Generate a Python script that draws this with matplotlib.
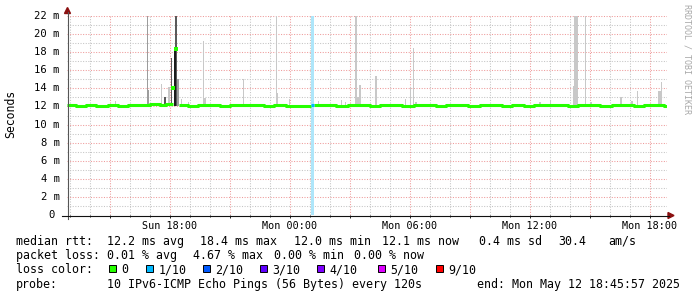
"""SmokePing style latency graph (median rtt + smoke), rebuilt with matplotlib."""

import numpy as np
import matplotlib.pyplot as plt
from matplotlib.patches import Rectangle, Polygon
from matplotlib.lines import Line2D
from matplotlib.ticker import FixedLocator

W, H = 697, 297

# time axis in hours since Sun 00:00
x_start = 12.85
x_end = 42.85
tick_hours = [15, 18, 21, 24, 27, 30, 33, 36, 39, 42]
tick_labels = ["", "Sun 18:00", "", "Mon 00:00", "", "Mon 06:00", "", "Mon 12:00", "", "Mon 18:00"]

y_ticks = [0, 2, 4, 6, 8, 10, 12, 14, 16, 18, 20, 22]
y_labels = ["0", "2 m", "4 m", "6 m", "8 m", "10 m", "12 m", "14 m", "16 m", "18 m", "20 m", "22 m"]

# median rtt (ms), step values
median_hours = [12.85, 13.3, 13.8, 14.3, 14.9, 15.4, 15.9, 16.5, 17.0, 17.5, 17.8, 18.15,
                18.45, 18.9, 19.4, 19.9, 20.5, 21.0, 21.6, 22.1, 22.7, 23.2, 23.8, 24.3,
                24.8, 25.05, 25.2, 25.8, 26.3, 26.9, 27.4, 28.0, 28.5, 29.1, 29.6, 30.2,
                30.7, 31.3, 31.8, 32.4, 32.9, 33.5, 34.0, 34.6, 35.1, 35.7, 36.2, 36.8,
                37.3, 37.9, 38.4, 39.0, 39.5, 40.1, 40.6, 41.2, 41.7, 42.2, 42.7, 42.85]
median_ms = [12.15, 12.1, 12.2, 12.1, 12.15, 12.1, 12.2, 12.15, 12.25, 12.2, 12.3, np.nan,
             12.15, 12.1, 12.2, 12.15, 12.1, 12.2, 12.15, 12.2, 12.1, 12.15, 12.05, 12.0,
             12.1, np.nan, 12.15, 12.2, 12.1, 12.15, 12.2, 12.1, 12.15, 12.2, 12.1, 12.15,
             12.2, 12.1, 12.15, 12.2, 12.1, 12.15, 12.2, 12.1, 12.15, 12.1, 12.2, 12.15,
             12.2, 12.1, 12.2, 12.15, 12.1, 12.2, 12.15, 12.1, 12.2, 12.15, 12.1, 12.1]

# isolated median samples during the spike
peak_hours = [18.165, 18.3]
peak_ms = [14.0, 18.4]

# sample with 1/10 packet loss
loss_hours = [25.05, 25.2]
loss_ms = [12.15, 12.15]

# smoke (ping spread): centre, duration, top value, density 0..3
smoke_hours = [15.25, 16.90, 16.85, 17.585, 17.93, 17.75, 18.085, 18.31, 18.42, 18.25,
               18.55, 18.90, 19.72, 19.665, 21.665, 23.35, 23.32, 23.965, 25.415, 26.55,
               26.75, 27.35, 27.31, 27.50, 28.31, 29.75, 30.00, 30.17, 30.29, 36.50,
               37.00, 38.165, 38.30, 38.775, 39.05, 40.54, 41.085, 41.36, 42.50, 42.57]
smoke_span = [0.05, 0.12, 0.05, 0.05, 0.10, 0.15, 0.05, 0.12, 0.10, 0.10,
              0.05, 0.05, 0.15, 0.06, 0.06, 0.13, 0.08, 0.05, 0.05, 0.05,
              0.05, 0.20, 0.10, 0.10, 0.10, 0.05, 0.05, 0.06, 0.08, 0.08,
              0.05, 0.05, 0.17, 0.06, 0.10, 0.09, 0.10, 0.05, 0.17, 0.06]
smoke_top = [12.6, 13.8, 22.0, 14.5, 14.1, 13.1, 17.4, 22.0, 15.0, 18.5,
             12.8, 12.5, 12.9, 19.2, 15.0, 13.5, 22.0, 12.8, 12.6, 12.7,
             12.5, 13.0, 22.0, 14.4, 15.4, 12.8, 14.1, 18.5, 12.5, 12.5,
             12.6, 14.3, 22.0, 22.0, 12.5, 13.0, 12.6, 13.7, 13.7, 14.7]
smoke_level = [0, 1, 1, 0, 0, 2, 2, 2, 1, 3,
               0, 0, 0, 0, 0, 0, 0, 0, 0, 0,
               0, 0, 0, 0, 0, 0, 0, 0, 0, 0,
               0, 0, 0, 0, 0, 0, 0, 0, 0, 0]
smoke_base = 12.05

loss_names = ["0", "1/10", "2/10", "3/10", "4/10", "5/10", "9/10"]
loss_colors = ["#26ff00", "#00b8ff", "#0059ff", "#5e00ff", "#7e00ff", "#dd00ff", "#ff0000"]

shades = ["#c8c8c8", "#9c9c9c", "#5a5a5a", "#1c1c1c"]
mono = "DejaVu Sans Mono"


def fx(x):
    return x / W


def fy(y):
    return 1 - y / H


fig = plt.figure(figsize=(W / 100, H / 100), dpi=100)
fig.patch.set_facecolor("white")
ax = fig.add_axes([fx(67), fy(215), 600 / W, 199 / H])
ax.set_xlim(x_start, x_end)
ax.set_ylim(0, 22)
for s in ax.spines.values():
    s.set_visible(False)

# grid
ax.xaxis.set_major_locator(FixedLocator(tick_hours))
ax.xaxis.set_minor_locator(FixedLocator(range(13, 43)))
ax.yaxis.set_major_locator(FixedLocator(y_ticks))
ax.yaxis.set_minor_locator(FixedLocator(range(1, 23, 2)))
ax.grid(which="minor", color="#c4c4c4", linestyle=(0, (1, 1.5)), linewidth=0.75)
ax.grid(which="major", color="#ee9a9a", linestyle=(0, (1, 1.5)), linewidth=0.75)
ax.set_axisbelow(True)
ax.set_xticklabels(tick_labels, fontfamily=mono, fontsize=7.3)
ax.set_yticklabels([])
ax.tick_params(axis="x", which="major", length=2.5, width=0.7, pad=1.5, color="#202020")
ax.tick_params(axis="x", which="minor", length=1.5, width=0.7, color="#202020")
ax.tick_params(axis="y", which="both", length=0)

for v, lab in zip(y_ticks, y_labels):
    off = -12 if lab == "0" else -7
    ax.text(off / 600, v, lab, transform=ax.get_yaxis_transform(), ha="right",
            va="center", fontfamily=mono, fontsize=7.6)

# loss band
ax.axvspan(loss_hours[0], loss_hours[1], color="#aee6fa", zorder=1.5, lw=0)

# smoke
order = np.argsort(smoke_level, kind="stable")
for i in order:
    ax.bar(smoke_hours[i], smoke_top[i] - smoke_base, width=smoke_span[i],
           bottom=smoke_base, color=shades[smoke_level[i]], lw=0, zorder=2)

# median
ax.step(median_hours, median_ms, where="post", color=loss_colors[0], lw=2.2,
        solid_capstyle="butt", zorder=3)
ax.plot(loss_hours, loss_ms, color=loss_colors[1], lw=2.2, solid_capstyle="butt", zorder=3)
ax.plot(peak_hours, peak_ms, "s", color=loss_colors[0], ms=2.2, mew=0, zorder=4)

# axes lines with arrows
fig.add_artist(Line2D([fx(67.5), fx(67.5)], [fy(219), fy(12)], color="#555555", lw=0.8))
fig.add_artist(Line2D([fx(62), fx(669)], [fy(215.5), fy(215.5)], color="#111111", lw=0.8))
fig.add_artist(Polygon([[fx(67.5), fy(7.5)], [fx(64.5), fy(13.5)], [fx(70.5), fy(13.5)]],
                       closed=True, color="#8b1010", transform=fig.transFigure))
fig.add_artist(Polygon([[fx(674), fy(215.5)], [fx(668), fy(212.5)], [fx(668), fy(218.5)]],
                       closed=True, color="#8b1010", transform=fig.transFigure))

fig.text(fx(11), fy(113.5), "Seconds", rotation=90, ha="center", va="center",
         fontfamily=mono, fontsize=8.3)
fig.text(fx(686.5), fy(4), "RRDTOOL / TOBI OETIKER", rotation=270, ha="center", va="top",
         fontfamily=mono, fontsize=6.0, color="#a8a8a8")

# legend rows
row1 = [(16, "median rtt:"), (107.7, "12.2 ms avg"), (201, "18.4 ms max"),
        (294.5, "12.0 ms min"), (382.7, "12.1 ms now"), (479.3, "0.4 ms sd"),
        (558.3, "30.4"), (608.3, "am/s")]
row2 = [(16, "packet loss:"), (107.7, "0.01 % avg"), (193.3, "4.67 % max"),
        (275, "0.00 % min"), (354, "0.00 % now")]
row4 = [(16, "probe:"), (107.7, "10 IPv6-ICMP Echo Pings (56 Bytes) every 120s"),
        (477.7, "end: Mon May 12 18:45:57 2025")]
for base, row in [(245, row1), (259.3, row2), (288, row4)]:
    for x, s in row:
        fig.text(fx(x - 0.5), fy(base), s, ha="left", va="baseline",
                 fontfamily=mono, fontsize=8.4)

fig.text(fx(15.5), fy(273.3), "loss color:", ha="left", va="baseline",
         fontfamily=mono, fontsize=8.4)
sq_x = [109, 146, 203, 260, 317, 377.7, 435.7]
for x, name, c in zip(sq_x, loss_names, loss_colors):
    fig.add_artist(Rectangle((fx(x), fy(272)), 7 / W, 7 / H, facecolor=c,
                             edgecolor="black", lw=0.7, transform=fig.transFigure))
    fig.text(fx(x + 12.5), fy(273.3), name, ha="left", va="baseline",
             fontfamily=mono, fontsize=8.4)

fig.savefig("out.png", dpi=100)
